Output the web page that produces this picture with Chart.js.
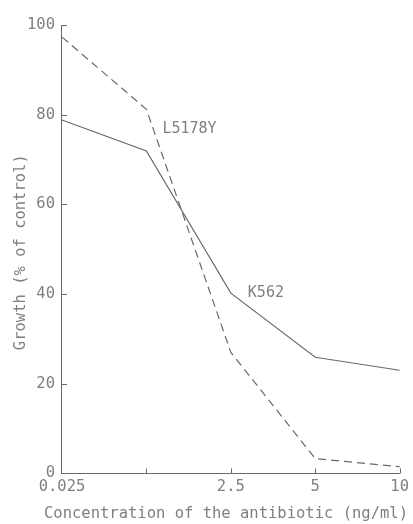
<!DOCTYPE html>
<html>
<head>
<meta charset="utf-8">
<script src="https://cdn.jsdelivr.net/npm/chart.js@4"></script>
<style>
  html, body { margin: 0; padding: 0; background: #fff; }
  #wrap { width: 413px; height: 524px; }
</style>
</head>
<body>
<div id="wrap"><canvas id="growthChart"></canvas></div>
<script>
// x categories (0.25 is not labelled in the original)
const concentrations = ['0.025', '', '2.5', '5', '10'];
const l5178y = [97.3, 81.2, 27, 3.3, 1.5];
const k562 = [78.8, 71.9, 40.2, 25.9, 23];
const yTicks = [0, 20, 40, 60, 80, 100];
const xTitle = 'Concentration of the antibiotic (ng/ml)';
const yTitle = 'Growth (% of control)';

const ink = '#6a6a6a';
const textInk = '#808080';
const mono = '"DejaVu Sans Mono", monospace';

// inward tick marks, curve labels and axis titles (drawn here so they sit tight like the original)
const decor = {
  id: 'decor',
  afterDraw(chart) {
    const ctx = chart.ctx;
    const x = chart.scales.x, y = chart.scales.y;
    ctx.save();
    ctx.strokeStyle = ink;
    ctx.lineWidth = 1;
    ctx.beginPath();
    yTicks.forEach(v => {
      const py = Math.round(y.getPixelForValue(v)) + 0.5;
      ctx.moveTo(x.left, py);
      ctx.lineTo(x.left + 5, py);
    });
    concentrations.forEach((c, i) => {
      if (i === 0) return;
      const px = Math.round(x.getPixelForValue(i)) + 0.5;
      ctx.moveTo(px, y.bottom);
      ctx.lineTo(px, y.bottom - 5);
    });
    ctx.stroke();

    ctx.fillStyle = textInk;
    ctx.font = '15px ' + mono;
    ctx.textBaseline = 'middle';
    ctx.fillText('L5178Y', x.getPixelForValue(1) + 16, y.getPixelForValue(l5178y[1]) + 20);
    ctx.fillText('K562', x.getPixelForValue(2) + 17, y.getPixelForValue(k562[2]));

    ctx.font = '15.5px ' + mono;
    ctx.textAlign = 'center';
    ctx.fillText(xTitle, 226, y.bottom + 41);

    ctx.translate(21, (y.top + y.bottom) / 2 + 3);
    ctx.rotate(-Math.PI / 2);
    ctx.fillText(yTitle, 0, 0);
    ctx.restore();
  }
};

new Chart(document.getElementById('growthChart'), {
  type: 'line',
  data: {
    labels: concentrations,
    datasets: [
      {
        label: 'L5178Y',
        data: l5178y,
        borderColor: ink,
        borderWidth: 1.2,
        borderDash: [8, 5],
        pointRadius: 0,
        tension: 0
      },
      {
        label: 'K562',
        data: k562,
        borderColor: ink,
        borderWidth: 1.2,
        pointRadius: 0,
        tension: 0
      }
    ]
  },
  options: {
    responsive: true,
    maintainAspectRatio: false,
    animation: false,
    layout: { padding: { top: 25, right: 13, left: 20, bottom: 24 } },
    plugins: {
      legend: { display: false },
      tooltip: { enabled: false }
    },
    scales: {
      x: {
        offset: false,
        grid: { display: false, drawTicks: false },
        border: { display: true, color: ink, width: 1 },
        ticks: {
          color: textInk,
          font: { family: mono, size: 15.5 },
          maxRotation: 0,
          autoSkip: false,
          padding: 4
        }
      },
      y: {
        min: 0,
        max: 100,
        grid: { display: false, drawTicks: false },
        border: { display: true, color: ink, width: 1 },
        ticks: {
          stepSize: 20,
          color: textInk,
          font: { family: mono, size: 15.5 },
          padding: 7
        }
      }
    }
  },
  plugins: [decor]
});
</script>
</body>
</html>
